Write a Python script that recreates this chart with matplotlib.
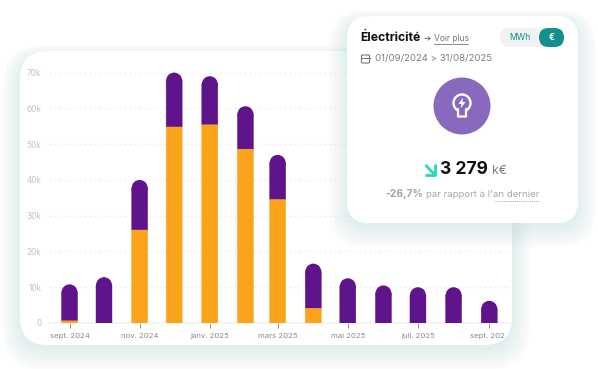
"""Electricity consumption card: stacked monthly bars with a summary card on top."""
import matplotlib
matplotlib.use("Agg")
import matplotlib.pyplot as plt
import matplotlib.dates as mdates
import pandas as pd
from matplotlib.patches import Circle, Ellipse, FancyBboxPatch, Polygon, Rectangle
from matplotlib.transforms import Bbox, TransformedBbox

plt.rcParams["font.family"] = ["Inter", "DejaVu Sans"]

W, H = 598, 369

months = ["2024-09-01", "2024-10-01", "2024-11-01", "2024-12-01", "2025-01-01", "2025-02-01",
          "2025-03-01", "2025-04-01", "2025-05-01", "2025-06-01", "2025-07-01", "2025-08-01", "2025-09-01"]
totals = [10800, 12800, 40000, 70000, 69000, 60600, 47000, 16600, 12500, 10500, 10000, 10000, 6200]
orange = [600, 0, 26000, 54800, 55400, 48600, 34500, 4100, 0, 0, 0, 0, 0]

y_ticks = [0, 10000, 20000, 30000, 40000, 50000, 60000, 70000]
y_labels = ["0", "10k", "20k", "30k", "40k", "50k", "60k", "70k"]
x_tick_months = ["2024-09-01", "2024-11-01", "2025-01-01", "2025-03-01", "2025-05-01", "2025-07-01", "2025-09-01"]
x_labels = ["sept. 2024", "nov. 2024", "janv. 2025", "mars 2025", "mai 2025", "juil. 2025", "sept. 2025"]

PURPLE = "#60148c"
ORANGE = "#fca31c"
TEAL = "#12908f"


def rounded(ax, x0, y0, x1, y1, r, **kw):
    p = FancyBboxPatch((x0 + r, y0 + r), x1 - x0 - 2 * r, y1 - y0 - 2 * r,
                       boxstyle="round,pad=%f,rounding_size=%f" % (r, r), **kw)
    ax.add_patch(p)
    return p


def shadow(ax, x0, y0, x1, y1, r, zorder):
    # stacked translucent boxes stand in for a blur
    for i in range(14, 0, -1):
        rounded(ax, x0 - i * 1.3, y0 - i * 0.8 + 5, x1 + i * 1.3, y1 + i * 1.5 + 4, r + i,
                facecolor="#9dbcbc", edgecolor="none", alpha=0.014, zorder=zorder)


fig = plt.figure(figsize=(W / 100, H / 100), dpi=100, facecolor="white")

# background layer, in pixels
bg = fig.add_axes([0, 0, 1, 1], zorder=0)
bg.set_xlim(0, W)
bg.set_ylim(H, 0)
bg.axis("off")
shadow(bg, 20, 51, 512, 345, 28, 1)
rounded(bg, 20, 51, 512, 345, 28, facecolor="white", edgecolor="none", zorder=2)

# chart layer
PX_LEFT, PX_RIGHT, PX_TOP, PX_ZERO = 49, 510, 60, 323
PX_PER_DAY = 1.15
PX_PER_UNIT = 35.77 / 10000
dates = mdates.date2num(pd.to_datetime(months))
d0 = dates[0]
ax = fig.add_axes([PX_LEFT / W, 1 - PX_ZERO / H, (PX_RIGHT - PX_LEFT) / W, (PX_ZERO - PX_TOP) / H], zorder=1)
ax.patch.set_alpha(0)
ax.set_xlim(d0 - (69.5 - PX_LEFT) / PX_PER_DAY, d0 + (PX_RIGHT - 69.5) / PX_PER_DAY)
ax.set_ylim(0, (PX_ZERO - PX_TOP) / PX_PER_UNIT)

bar_w = 16 / PX_PER_DAY
cap_r = 8 / PX_PER_UNIT
for d, t, o in zip(dates, totals, orange):
    ax.bar(d, t - cap_r - o, bottom=o, width=bar_w, color=PURPLE, edgecolor=PURPLE, lw=0.3, snap=False, zorder=3)
    ax.add_patch(Ellipse((d, t - cap_r), bar_w, 2 * cap_r, color=PURPLE, lw=0, zorder=3))
    if o > 0:
        ax.bar(d, o, width=bar_w, color=ORANGE, edgecolor=ORANGE, lw=0.3, snap=False, zorder=4)

ax.set_yticks(y_ticks)
ax.set_yticklabels(y_labels, fontsize=5.9, color="#c2c2c2")
ax.set_xticks(mdates.date2num(pd.to_datetime(x_tick_months)))
ax.set_xticklabels(x_labels, fontsize=5.6, color="#8a8a8a")
ax.tick_params(axis="y", length=0, pad=5.5)
ax.tick_params(axis="x", length=3.6, width=0.7, color="#8a8a8a", pad=3.6)
ax.grid(True, axis="y", color="#ececec", linestyle=(0, (1.5, 3)), linewidth=0.8)
ax.set_axisbelow(True)
for s in ["top", "left", "right"]:
    ax.spines[s].set_visible(False)
ax.spines["bottom"].set_color("#f3f3f3")
ax.spines["bottom"].set_linewidth(1.2)
# last label is cut by the card edge in the original
label_clip = TransformedBbox(Bbox([[0, 0], [504.5 / W, 1]]), fig.transFigure)
for lab in ax.get_xticklabels():
    lab.set_clip_box(label_clip)
    lab.set_clip_on(True)

# summary card layer, in pixels
top = fig.add_axes([0, 0, 1, 1], zorder=2)
top.set_xlim(0, W)
top.set_ylim(H, 0)
top.axis("off")
shadow(top, 347, 16, 578, 223, 22, 1)
rounded(top, 347, 16, 578, 223, 22, facecolor="white", edgecolor="none", zorder=2)

top.text(360.5, 37.5, "Électricité", fontsize=8.8, fontweight="bold", color="#111111", va="center", zorder=5)
top.annotate("", xy=(431, 38.5), xytext=(425, 38.5), zorder=5,
             arrowprops=dict(arrowstyle="->,head_length=0.15,head_width=0.12", color="#777777", lw=0.7, shrinkA=0, shrinkB=0))
top.text(434, 38.5, "Voir plus", fontsize=6.1, color="#777777", va="center", zorder=5)
top.plot([434, 468], [43.5, 43.5], color="#777777", lw=0.6, zorder=5)

rounded(top, 500, 28, 564, 47, 9.5, facecolor="#f1f3f3", edgecolor="none", zorder=3)
rounded(top, 539, 28, 564, 47, 9.5, facecolor=TEAL, edgecolor="none", zorder=4)
top.text(519.5, 37.8, "MWh", fontsize=6.2, color=TEAL, ha="center", va="center", zorder=5)
top.text(551.5, 37.8, "€", fontsize=6.2, fontweight="bold", color="white", ha="center", va="center", zorder=5)

# calendar icon
rounded(top, 361.5, 55, 369.5, 63, 1, facecolor="none", edgecolor="#777777", lw=0.8, zorder=5)
top.plot([361.5, 369.5], [57.8, 57.8], color="#777777", lw=0.7, zorder=5)
top.text(375, 58.8, "01/09/2024 > 31/08/2025", fontsize=6.9, color="#7d7d7d", va="center", zorder=5)

# bulb icon
top.add_patch(Circle((462, 106), 28.5, facecolor="#8869bd", edgecolor="none", zorder=4))
top.add_patch(Circle((462, 103), 8.5, facecolor="none", edgecolor="white", lw=1.7, zorder=5))
top.add_patch(Rectangle((458, 110), 8, 5, facecolor="#8869bd", edgecolor="none", zorder=5))
top.plot([457.5, 458, 458, 466, 466, 466.5], [109, 111, 116.5, 116.5, 111, 109], color="white", lw=1.6, zorder=6)
top.add_patch(Polygon([(463, 97.5), (458.5, 104), (461.5, 104), (460.5, 108.5), (465.5, 102), (462.5, 102)],
                      facecolor="white", edgecolor="none", zorder=6))

# trend arrow and value
top.plot([425.5, 434], [165, 174], color="#22dcb9", lw=2, zorder=5, solid_capstyle="butt")
top.plot([424.5, 435, 435], [174.5, 174.5, 164], color="#22dcb9", lw=2, zorder=5, solid_capstyle="butt")
top.text(440.5, 169.5, "3 279", fontsize=12.6, fontweight="bold", color="#111111", va="center", zorder=5)
top.text(492, 171, "k€", fontsize=8.8, color="#7d7d7d", va="center", zorder=5)
top.text(385.5, 194, "-26,7%", fontsize=7.4, fontweight="bold", color="#a3a3a3", va="center", zorder=5)
top.text(426.5, 194.5, "par rapport à l'an dernier", fontsize=6.9, color="#a8a8a8", va="center", zorder=5)
top.plot([495, 539], [200.5, 200.5], color="#a0a0a0", lw=0.7, linestyle=(0, (1, 1.2)), zorder=5)

fig.savefig("out.png", dpi=100)
plt.close(fig)
